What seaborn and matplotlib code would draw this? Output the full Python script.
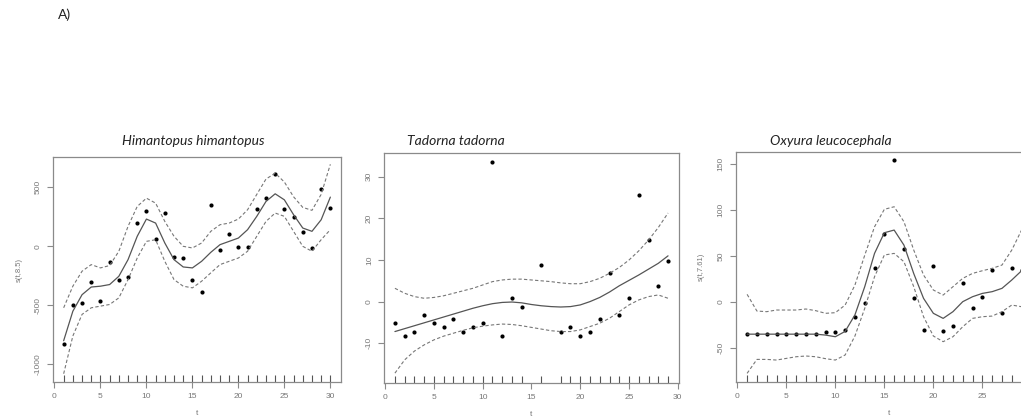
import numpy as np
import pandas as pd
import matplotlib
matplotlib.use("Agg")
import matplotlib.pyplot as plt
import seaborn as sns

# Himantopus himantopus
t1 = list(range(1, 31))
pts1 = [-825, -496, -482, -299, -462, -130, -285, -259, 194, 299, 65, 282, -93, -101, -285,
        -386, 349, -31, 104, -3, -8, 313, 408, 612, 318, 248, 124, -11, 482, 321]
fit1 = [-800, -550, -410, -345, -338, -324, -254, -113, 85, 231, 197, 28, -113, -175, -183,
        -127, -51, 14, 42, 70, 141, 254, 380, 445, 394, 268, 155, 127, 225, 417]
up1 = [-521, -338, -211, -155, -183, -163, -42, 169, 338, 408, 366, 211, 85, 0, -14,
       28, 127, 183, 197, 231, 310, 440, 570, 620, 545, 420, 330, 305, 440, 695]
low1 = [-1080, -760, -577, -521, -507, -493, -437, -282, -99, 42, 56, -127, -282, -338, -352,
        -296, -225, -155, -127, -99, -42, 85, 211, 282, 254, 127, 0, -42, 56, 141]

# Tadorna tadorna
t2_pts = [1, 2, 3, 4, 5, 6, 7, 8, 9, 10, 11, 12, 13, 14, 16, 18, 19, 20, 21, 22, 23, 24, 25, 26, 27, 28, 29]
pts2 = [-5.2, -8.2, -7.2, -3.2, -5.2, -6.1, -4.2, -7.2, -6.2, -5.2, 33.6, -8.2, 0.8, -1.3, 8.8,
        -7.2, -6.2, -8.2, -7.2, -4.2, 6.8, -3.2, 0.8, 25.7, 14.8, 3.8, 9.7]
t2 = list(range(1, 30))
fit2 = [-7.2, -6.5, -5.8, -5.1, -4.4, -3.7, -3.0, -2.3, -1.6, -1.0, -0.5, -0.2, -0.1, -0.3, -0.7,
        -1.0, -1.2, -1.3, -1.2, -0.8, 0.0, 1.0, 2.3, 3.8, 5.1, 6.4, 7.8, 9.2, 11.0]
up2 = [3.2, 2.0, 1.2, 0.8, 1.0, 1.4, 2.0, 2.6, 3.2, 4.0, 4.8, 5.2, 5.4, 5.4, 5.2,
       5.0, 4.8, 4.5, 4.3, 4.3, 4.8, 5.6, 6.8, 8.2, 10.0, 12.2, 14.8, 17.8, 21.3]
low2 = [-17.2, -14.0, -11.9, -10.4, -9.2, -8.3, -7.6, -6.9, -6.3, -5.9, -5.6, -5.4, -5.5, -5.8, -6.2,
        -6.6, -7.0, -7.2, -7.2, -6.8, -6.0, -5.2, -4.0, -2.4, -0.8, 0.4, 1.2, 1.6, 0.8]

# Oxyura leucocephala
t3 = list(range(1, 30))
pts3 = [-34.9, -34.9, -34.9, -34.9, -34.9, -34.9, -34.9, -34.9, -33, -33, -30.5, -16, -0.7, 37, 74.4,
        154.3, 57.4, 4.0, -30, 38.9, -31.6, -26, 21, -6.9, 5.1, 34.9, -12.3, 36.7, 34.5]
fit3 = [-35, -35, -35, -35, -35, -35, -35, -35, -36, -37.8, -32, -14, 16.7, 53, 75.5,
        78.4, 62, 31, 4, -12.3, -17.8, -10.5, 0.4, 5.8, 9.4, 11.3, 14.9, 24, 34.1]
up3 = [8.4, -9.8, -10.5, -8.7, -8.7, -8.7, -7.6, -9.4, -12.3, -11.6, -3.3, 18.5, 51, 82, 101,
       103.8, 87.5, 56.6, 29.4, 13.1, 7.6, 16.7, 25.8, 31.2, 34.1, 36.7, 40.3, 56.6, 78.4]
low3 = [-77.7, -62.5, -62.5, -63.2, -61.4, -59.6, -58.8, -59.6, -61.7, -63.2, -57.7, -37, -6.9, 27.6, 51.2,
        53, 43.9, 16.7, -16, -37, -43.2, -37.8, -26.9, -17.8, -16, -15.3, -10.5, -3.3, -5.1]

titles = ["Himantopus himantopus", "Tadorna tadorna", "Oxyura leucocephala"]
ylabels = ["s(t,8.5)", "", "s(t,7.61)"]

sns.set_style("ticks")
plt.rcParams['font.family'] = ['Liberation Sans', 'DejaVu Sans']
plt.rcParams['axes.unicode_minus'] = False

fig = plt.figure(figsize=(10.21, 4.19), dpi=100)

grey = "#8a8a8a"


def panel(rect, tp, pts, t, fit, up, low, xlim, ylim, yticks, xticks, ylab):
    ax = fig.add_axes(rect)
    sns.lineplot(x=t, y=fit, ax=ax, color="#555555", linewidth=0.9, estimator=None)
    sns.lineplot(x=t, y=up, ax=ax, color="#777777", linewidth=0.8, estimator=None)
    sns.lineplot(x=t, y=low, ax=ax, color="#777777", linewidth=0.8, estimator=None)
    ax.lines[1].set_dashes((3, 2))
    ax.lines[2].set_dashes((3, 2))
    sns.scatterplot(x=tp, y=pts, ax=ax, color="black", s=9, linewidth=0)
    sns.rugplot(x=tp, ax=ax, height=0.03, color="#555555", linewidth=0.8)
    ax.set_xlim(*xlim)
    ax.set_ylim(*ylim)
    ax.set_xticks(xticks)
    ax.set_yticks(yticks)
    for s in ax.spines.values():
        s.set_visible(True)
        s.set_color(grey)
        s.set_linewidth(0.9)
    ax.tick_params(colors=grey, labelsize=6, length=4, width=0.8, labelcolor="#777777", pad=4)
    ax.tick_params(axis='y', labelrotation=90)
    for lab in ax.get_yticklabels():
        lab.set_va("center")
    ax.set_xlabel("t", fontsize=6, color="#777777", labelpad=7)
    ax.set_ylabel(ylab, fontsize=5.5, color="#777777", labelpad=9)
    return ax


panel([0.0519, 0.0883, 0.2821, 0.537], t1, pts1, t1, fit1, up1, low1,
      (-0.16, 31.16), (-1150, 757), [-1000, -500, 0, 500], [0, 5, 10, 15, 20, 25, 30], ylabels[0])
panel([0.3761, 0.0866, 0.2889, 0.549], t2_pts, pts2, t2, fit2, up2, low2,
      (-0.12, 30.12), (-19.5, 35.8), [-10, 0, 10, 20, 30], [0, 5, 10, 15, 20, 25, 30], ylabels[1])
panel([0.7206, 0.089, 0.3007, 0.549], t3, pts3, t3, fit3, up3, low3,
      (-0.16, 31.16), (-86.8, 163.8), [-50, 0, 50, 100, 150], [0, 5, 10, 15, 20, 25], ylabels[2])

# titulos de cada especie encima de cada panel
title_x = [193, 456, 831]
for tx, title in zip(title_x, titles):
    fig.text(tx / 1021, 1 - 141 / 419, title, ha="center", va="center", fontsize=10,
             style="italic", family=["Lato", "DejaVu Sans"], color="#222222")

fig.text(58 / 1021, 1 - 15 / 419, "A)", ha="left", va="center", fontsize=10,
         family=["Lato", "DejaVu Sans"], color="#222222")

fig.savefig("out.png", dpi=100)
